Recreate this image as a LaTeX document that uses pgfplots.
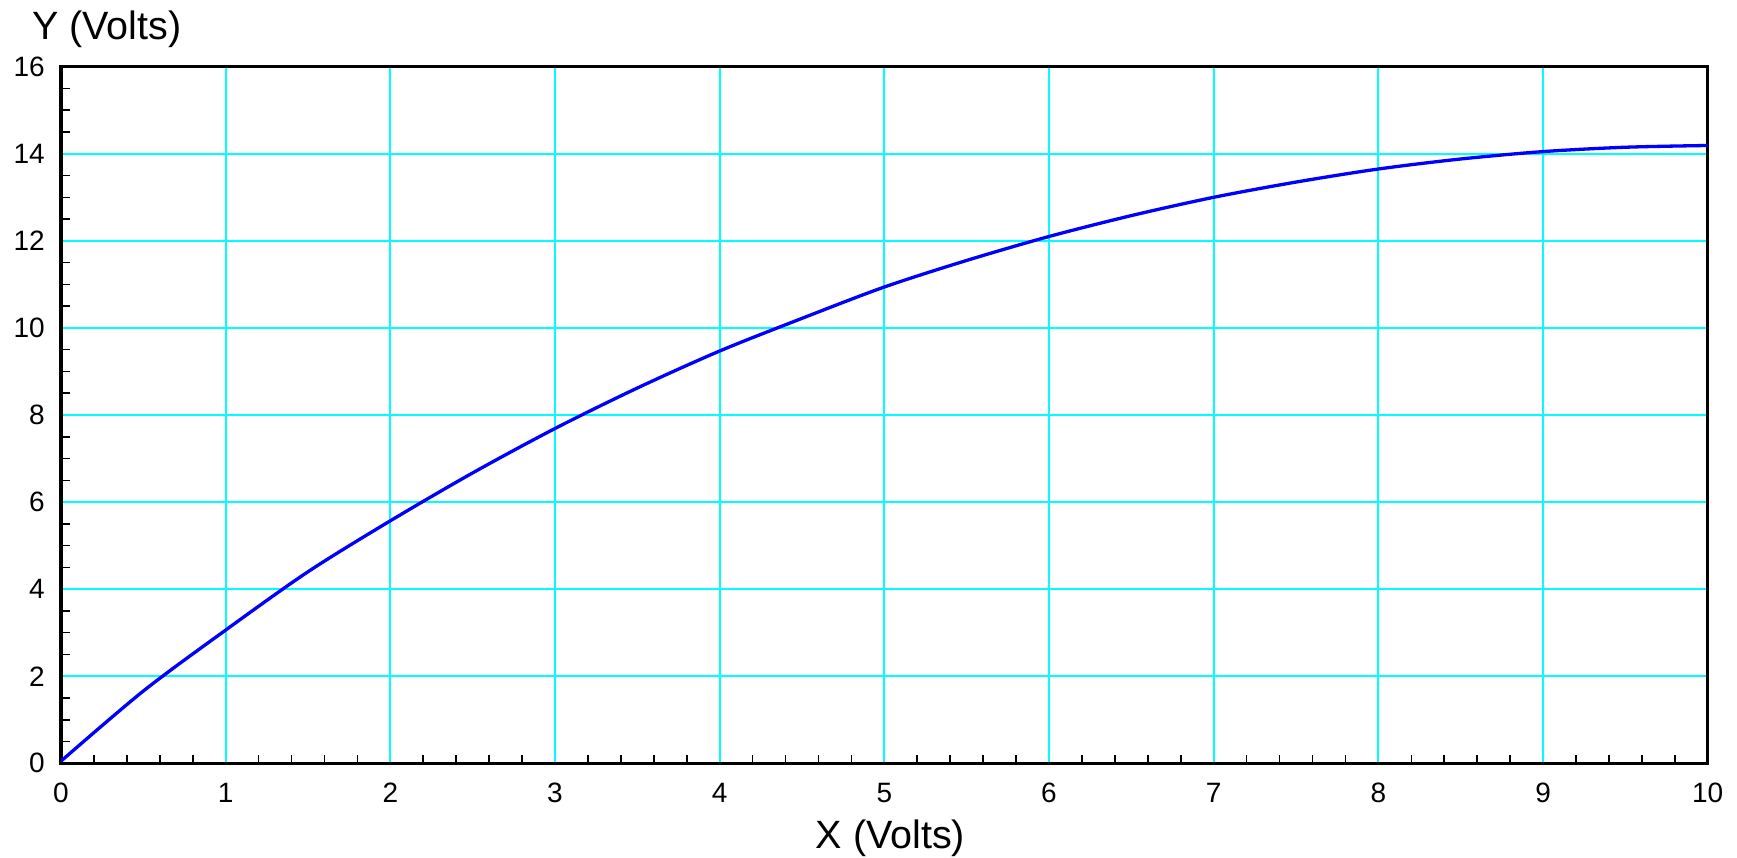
\documentclass[border=0pt]{standalone}
\usepackage{fontspec}
\setmainfont{Liberation Sans}
\usepackage{pgfplots}
\pgfplotsset{compat=1.18}
\definecolor{gridcyan}{RGB}{0,255,255}
\definecolor{curveblue}{RGB}{0,0,255}
\begin{document}
\begin{tikzpicture}
\begin{axis}[
  scale only axis,
  width=1646.7bp, height=696.6bp,
  xmin=0, xmax=10, ymin=0, ymax=16,
  xtick={0,1,...,10}, ytick={0,2,...,16},
  minor x tick num=4, minor y tick num=3,
  tick pos=left, tick align=inside,
  major tick length=0bp, minor tick length=8.5bp,
  every tick/.style={black, line width=1.6bp},
  grid=major,
  major grid style={gridcyan, line width=2bp},
  axis line style={black, line width=3.2bp},
  /pgf/number format/assume math mode=true,
  tick label style={font=\fontsize{28bp}{30bp}\selectfont, inner sep=0pt},
  xticklabel style={anchor=base, yshift=-39bp},
  yticklabel style={anchor=east, xshift=-16bp},
  every axis x label/.style={at={(rel axis cs:0.5,0)}, anchor=base, xshift=6bp, yshift=-85bp, inner sep=0pt, font=\fontsize{39.5bp}{42bp}\selectfont},
  every axis y label/.style={at={(rel axis cs:0,1)}, anchor=base west, xshift=-29bp, yshift=26.7bp, inner sep=0pt, font=\fontsize{39.5bp}{42bp}\selectfont},
  xlabel={X (Volts)},
  ylabel={Y (Volts)},
]
\addplot[curveblue, line width=3.3bp, smooth, tension=0.5] coordinates {
(0,0.05) (0.5,1.66) (1,3.06) (1.5,4.40) (2,5.57) (2.5,6.67) (3,7.69)
(3.5,8.62) (4,9.47) (4.5,10.22) (5,10.94) (5.5,11.55) (6,12.10)
(6.5,12.58) (7,13.00) (7.5,13.35) (8,13.65) (8.5,13.88) (9,14.05)
(9.5,14.15) (10,14.19)
};
\end{axis}
\path ([shift={(-61bp,-93.7bp)}]current axis.south west) rectangle ([shift={(29.3bp,66.7bp)}]current axis.north east);
\end{tikzpicture}
\end{document}
